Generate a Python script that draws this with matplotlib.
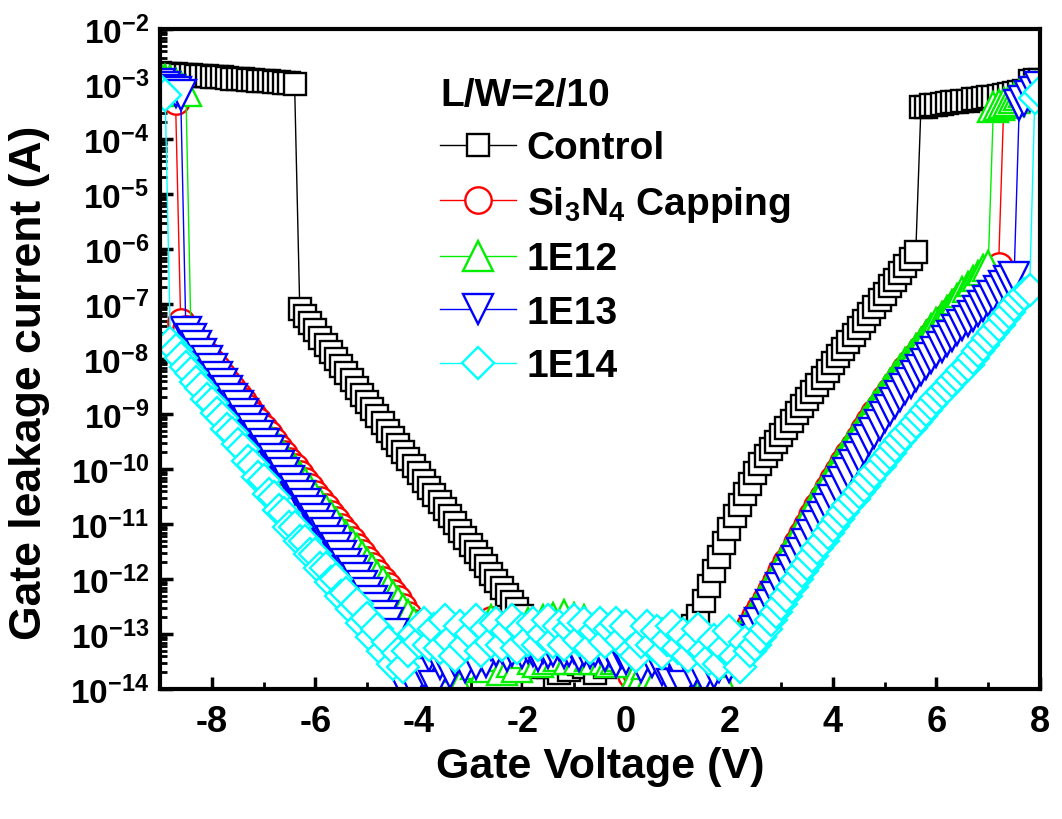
import numpy as np
import matplotlib
matplotlib.use('Agg')
import matplotlib.pyplot as plt
from matplotlib.ticker import FixedLocator, LogLocator, FuncFormatter, NullFormatter

plt.rcParams['font.family'] = ['Liberation Sans', 'DejaVu Sans']
plt.rcParams['font.weight'] = 'bold'
plt.rcParams['mathtext.fontset'] = 'custom'
plt.rcParams['mathtext.rm'] = 'Liberation Sans:bold'
plt.rcParams['mathtext.it'] = 'Liberation Sans:bold'
plt.rcParams['mathtext.bf'] = 'Liberation Sans:bold'
plt.rcParams['axes.unicode_minus'] = False

# ---------------- data ----------------
gate_voltage = [
    -9.0, -8.9, -8.8, -8.7, -8.6, -8.5, -8.4, -8.3, -8.2, -8.1,
    -8.0, -7.9, -7.8, -7.7, -7.6, -7.5, -7.4, -7.3, -7.2, -7.1,
    -7.0, -6.9, -6.8, -6.7, -6.6, -6.5, -6.4, -6.3, -6.2, -6.1,
    -6.0, -5.9, -5.8, -5.7, -5.6, -5.5, -5.4, -5.3, -5.2, -5.1,
    -5.0, -4.9, -4.8, -4.7, -4.6, -4.5, -4.4, -4.3, -4.2, -4.1,
    -4.0, -3.9, -3.8, -3.7, -3.6, -3.5, -3.4, -3.3, -3.2, -3.1,
    -3.0, -2.9, -2.8, -2.7, -2.6, -2.5, -2.4, -2.3, -2.2, -2.1,
    -2.0, -1.9, -1.8, -1.7, -1.6, -1.5, -1.4, -1.3, -1.2, -1.1,
    -1.0, -0.9, -0.8, -0.7, -0.6, -0.5, -0.4, -0.3, -0.2, -0.1,
    0.0, 0.1, 0.2, 0.3, 0.4, 0.5, 0.6, 0.7, 0.8, 0.9,
    1.0, 1.1, 1.2, 1.3, 1.4, 1.5, 1.6, 1.7, 1.8, 1.9,
    2.0, 2.1, 2.2, 2.3, 2.4, 2.5, 2.6, 2.7, 2.8, 2.9,
    3.0, 3.1, 3.2, 3.3, 3.4, 3.5, 3.6, 3.7, 3.8, 3.9,
    4.0, 4.1, 4.2, 4.3, 4.4, 4.5, 4.6, 4.7, 4.8, 4.9,
    5.0, 5.1, 5.2, 5.3, 5.4, 5.5, 5.6, 5.7, 5.8, 5.9,
    6.0, 6.1, 6.2, 6.3, 6.4, 6.5, 6.6, 6.7, 6.8, 6.9,
    7.0, 7.1, 7.2, 7.3, 7.4, 7.5, 7.6, 7.7, 7.8, 7.9,
    8.0,
]

# log10 of gate leakage current (A), one value per gate voltage
control_log = [
    -2.80, -2.81, -2.81, -2.82, -2.83, -2.83, -2.84, -2.85, -2.85, -2.86,
    -2.87, -2.88, -2.88, -2.89, -2.90, -2.91, -2.91, -2.92, -2.93, -2.94,
    -2.95, -2.95, -2.96, -2.97, -2.98, -2.99, -3.00,
    -7.09, -7.22, -7.35, -7.48, -7.61, -7.74, -7.87, -8.00, -8.13, -8.26,
    -8.39, -8.52, -8.65, -8.78, -8.91, -9.04, -9.17, -9.30, -9.43, -9.56,
    -9.69, -9.82, -9.95, -10.08, -10.21, -10.34, -10.47, -10.60, -10.73, -10.86,
    -10.99, -11.12, -11.25, -11.38, -11.51, -11.64, -11.77, -11.90, -12.03, -12.16,
    -12.29, -12.42, -12.55, -12.68,
    -13.50, -13.95, -13.60, -13.55,
    -13.60, -13.45, -13.70, -13.50, -13.65, -13.40, -13.55, -13.60, -13.45, -13.70,
    -13.50, -13.60, -13.40, -13.55, -13.50, -13.45, -13.60, -13.40, -13.55, -13.50,
    -13.65, -13.45, -13.55, -13.40, -13.35,
    -13.30, -13.10, -12.95, -12.85,
    -12.67, -12.40, -12.13, -11.86, -11.60, -11.34,
    -11.09, -10.86, -10.66, -10.46, -10.27, -10.08, -9.91, -9.77, -9.64, -9.51,
    -9.38, -9.25, -9.12, -8.99, -8.86, -8.73, -8.60, -8.47, -8.34, -8.21,
    -8.08, -7.95, -7.82, -7.69, -7.56, -7.43, -7.31, -7.18, -7.06, -6.93,
    -6.81, -6.68, -6.56, -6.43, -6.31, -6.18, -6.06,
    -3.42, -3.41, -3.39, -3.38, -3.36, -3.35, -3.33, -3.32, -3.31, -3.30,
    -3.28, -3.27, -3.26, -3.24, -3.23, -3.22, -3.20, -3.19, -3.17, -3.15,
    -3.13, -2.95, -2.93, -2.92,
]

si3n4_log = [
    -2.95, -3.05, -3.15, -3.30,
    -7.33, -7.45, -7.57, -7.69, -7.81, -7.93, -8.05, -8.17, -8.29, -8.41,
    -8.53, -8.65, -8.77, -8.89, -9.01, -9.13, -9.25, -9.37, -9.49, -9.61,
    -9.73, -9.85, -9.97, -10.09, -10.21, -10.33, -10.45, -10.57, -10.69, -10.81,
    -10.93, -11.05, -11.17, -11.29, -11.41, -11.53, -11.65, -11.77, -11.89, -12.01,
    -12.13, -12.25, -12.37, -12.50,
    -12.65, -12.80, -13.20, -13.40, -13.50, -13.30, -13.55, -13.40, -13.60, -13.30,
    -13.50, -13.35, -13.55, -13.30, -13.20, -13.00, -12.75, -13.20, -13.40, -13.30,
    -13.45, -13.30, -13.50, -13.35, -13.25, -13.40, -13.30, -13.45, -13.30, -13.40,
    -13.25, -13.45, -13.35, -13.30, -13.40, -13.25, -13.45, -13.30, -13.40, -13.35,
    -13.30, -13.10, -13.30, -13.75, -13.70, -13.10, -13.05, -13.70, -13.75, -13.20,
    -13.05, -13.30, -13.60, -13.85, -13.40, -13.30, -13.85, -13.90, -13.80, -13.60,
    -13.45, -13.35,
    -13.35, -13.25, -13.12, -12.98, -12.84, -12.68, -12.52, -12.36, -12.20, -12.03,
    -11.86, -11.69, -11.52, -11.35, -11.18, -11.01, -10.84, -10.67, -10.50, -10.34,
    -10.18, -10.03, -9.88, -9.73, -9.58, -9.43, -9.28, -9.13, -8.99, -8.85,
    -8.71, -8.58, -8.45, -8.32, -8.19, -8.06, -7.94, -7.82, -7.70, -7.58,
    -7.46, -7.35, -7.24, -7.13, -7.02, -6.91, -6.81, -6.71, -6.61, -6.51,
    -6.42, -6.36, -6.30,
    -3.38, -3.34, -3.30, -3.26, -3.22, -3.18, -3.14, -3.10,
]

e12_log = [
    -2.88, -2.92, -2.95, -3.00, -3.05, -3.12,
    -7.62, -7.74, -7.86, -7.98, -8.10, -8.22, -8.34, -8.46, -8.58, -8.70,
    -8.82, -8.94, -9.06, -9.18, -9.30, -9.42, -9.54, -9.66, -9.78, -9.90,
    -10.02, -10.14, -10.26, -10.38, -10.50, -10.62, -10.74, -10.86, -10.98, -11.10,
    -11.22, -11.34, -11.46, -11.58, -11.70, -11.82, -11.94, -12.06, -12.18, -12.30,
    -12.42, -12.54, -12.66, -12.80,
    -13.20, -13.60, -13.30, -13.85, -13.50, -13.70, -13.40, -13.60, -13.95, -13.45,
    -13.30, -13.55, -13.20, -13.60, -12.75, -13.40, -13.65, -12.85, -13.50, -13.60,
    -13.35, -12.80, -13.45, -13.50, -12.75, -13.45, -12.70, -13.40, -12.65, -13.45,
    -12.70, -13.45, -12.75, -13.40, -13.45, -12.80, -13.45, -13.50, -13.45, -13.40,
    -13.45, -13.50, -13.75, -13.80, -13.55, -13.75, -13.80, -13.00, -12.95, -13.30,
    -13.10, -13.50, -13.05, -13.30, -13.80, -13.90, -13.85, -13.90, -13.75, -13.50,
    -13.30, -13.20, -13.05, -12.90, -12.75, -12.58, -12.41, -12.24, -12.07, -11.90,
    -11.73, -11.56, -11.39, -11.22, -11.05, -10.88, -10.71, -10.54, -10.38, -10.22,
    -10.06, -9.91, -9.76, -9.61, -9.46, -9.31, -9.16, -9.01, -8.87, -8.73,
    -8.59, -8.46, -8.33, -8.20, -8.07, -7.94, -7.82, -7.70, -7.58, -7.46,
    -7.34, -7.23, -7.12, -7.01, -6.90, -6.79, -6.69, -6.59, -6.49, -6.39,
    -6.30,
    -3.42, -3.38, -3.35, -3.30, -3.26, -3.20, -3.15, -3.10, -3.05, -3.00,
]

e13_log = [
    -3.00, -3.05, -3.10, -3.15, -3.20,
    -7.50, -7.64, -7.77, -7.91, -8.04, -8.18, -8.32, -8.45, -8.59, -8.72,
    -8.86, -9.00, -9.13, -9.27, -9.40, -9.54, -9.68, -9.81, -9.95, -10.08,
    -10.22, -10.36, -10.49, -10.63, -10.76, -10.90, -11.04, -11.17, -11.31, -11.44,
    -11.58, -11.72, -11.85, -11.99, -12.12, -12.26, -12.40, -12.53, -12.67, -12.80,
    -13.00, -13.35, -13.90, -13.60, -13.95, -13.50, -13.70, -13.40, -13.95, -13.55,
    -13.30, -13.70, -13.50, -13.40, -13.60, -13.35, -13.55, -13.30, -13.50, -13.20,
    -13.30, -13.25, -13.40, -13.30, -13.20, -13.35, -13.25, -13.30, -13.40, -13.25,
    -13.35, -13.30, -13.20, -13.35, -13.30, -13.25, -13.40, -13.30, -13.35, -13.30,
    -13.25, -13.40, -13.30, -13.50, -13.35, -13.45, -13.30, -13.25, -13.60, -13.30,
    -13.50, -13.35, -13.65, -13.40, -13.90, -13.60, -13.95, -13.45, -13.70, -13.55,
    -13.80, -13.50, -13.70, -13.60, -13.40, -13.60, -13.45, -13.30,
    -13.25, -13.10, -12.95, -12.80, -12.64, -12.48, -12.32,
    -12.16, -12.00, -11.84, -11.68, -11.52, -11.36, -11.20, -11.04, -10.88, -10.72,
    -10.56, -10.40, -10.24, -10.08, -9.93, -9.78, -9.63, -9.48, -9.34, -9.20,
    -9.06, -8.93, -8.80, -8.67, -8.55, -8.43, -8.31, -8.20, -8.09, -7.98,
    -7.88, -7.78, -7.68, -7.58, -7.48, -7.39, -7.30, -7.21, -7.12, -7.03,
    -6.94, -6.85, -6.76, -6.67, -6.58, -6.50,
    -3.38, -3.30, -3.22, -3.14, -3.06,
]

e14_log = [
    -3.10, -3.20,
    -7.70, -7.84, -7.98, -8.15, -8.25, -8.42, -8.53, -8.72, -8.80, -8.98,
    -9.08, -9.28, -9.35, -9.55, -9.63, -9.85, -9.92, -10.15, -10.20, -10.45,
    -10.50, -10.75, -10.80, -11.05, -11.05, -11.30, -11.30, -11.55, -11.55, -11.80,
    -11.80, -12.05, -12.00, -12.30, -12.25, -12.55, -12.45, -12.80, -12.70, -13.05,
    -12.90, -13.30, -13.15, -13.55, -13.35,
    -13.60, -13.30, -13.00, -13.15, -12.80, -13.20, -12.90, -13.25, -12.75, -13.10,
    -13.40, -12.85, -13.20, -13.00, -12.75, -13.30, -12.90, -13.15, -12.80, -13.20,
    -12.95, -12.75, -13.25, -12.90, -13.10, -12.80, -13.20, -13.00, -12.75, -13.15,
    -12.85, -13.20, -12.90, -12.75, -13.10, -12.80, -13.25, -12.95, -12.80, -13.15,
    -12.90, -12.80, -13.10, -12.85, -13.30, -13.40, -13.15, -12.85, -13.20, -12.95,
    -13.35, -13.10, -12.85, -13.25, -13.00, -13.40, -13.15, -12.90, -13.30, -13.45,
    -13.10, -13.55, -13.25, -12.95, -13.40, -13.60, -13.15, -13.30,
    -13.20, -13.05, -12.90, -12.75, -12.60,
    -12.45, -12.30, -12.15, -12.00, -11.86, -11.72, -11.58, -11.44, -11.30, -11.17,
    -11.04, -10.91, -10.78, -10.66, -10.54, -10.42, -10.30, -10.18, -10.06, -9.94,
    -9.82, -9.70, -9.59, -9.48, -9.37, -9.26, -9.15, -9.04, -8.93, -8.82,
    -8.71, -8.60, -8.50, -8.40, -8.30, -8.20, -8.10, -7.98, -7.86, -7.74,
    -7.62, -7.50, -7.38, -7.26, -7.14, -7.02, -6.91, -6.82, -6.75,
    -3.25, -3.15,
]

series_labels = ['Control', 'Si$_3$N$_4$ Capping', '1E12', '1E13', '1E14']
legend_title = 'L/W=2/10'
x_ticks = [-8, -6, -4, -2, 0, 2, 4, 6, 8]
x_minor_ticks = [-9, -7, -5, -3, -1, 1, 3, 5, 7]

# ---------------- styles ----------------
styles = [
    dict(color='#000000', marker='s', ms=16.5),
    dict(color='#FF0000', marker='o', ms=19),
    dict(color='#00EE00', marker='^', ms=21),
    dict(color='#0000FF', marker='v', ms=21),
    dict(color='#00FFFF', marker='D', ms=16.5),
]

all_logs = [control_log, si3n4_log, e12_log, e13_log, e14_log]
for arr in all_logs:
    assert len(arr) == len(gate_voltage), len(arr)

fig = plt.figure(figsize=(10.62, 8.2), dpi=100)
ax = fig.add_axes([160 / 1062, 130 / 820, 880 / 1062, 660 / 820])

V = np.array(gate_voltage)
for lab, logs, st in zip(series_labels, all_logs, styles):
    ax.plot(V, 10.0 ** np.array(logs), color=st['color'], lw=1.0,
            marker=st['marker'], ms=st['ms'], mfc='white', mec=st['color'],
            mew=1.7, label=lab)

ax.set_yscale('log')
ax.set_xlim(-9, 8)
ax.set_ylim(1e-14, 1e-2)

ax.xaxis.set_major_locator(FixedLocator(x_ticks))
ax.xaxis.set_minor_locator(FixedLocator(x_minor_ticks))
ax.yaxis.set_major_locator(LogLocator(base=10, numticks=20))
ax.yaxis.set_minor_locator(LogLocator(base=10, subs=np.arange(2, 10), numticks=20))
ax.yaxis.set_minor_formatter(NullFormatter())
ax.yaxis.set_major_formatter(FuncFormatter(lambda v, p: r'$10^{%d}$' % int(round(np.log10(v)))))
ax.xaxis.set_major_formatter(FuncFormatter(lambda v, p: '%d' % int(round(v))))

ax.tick_params(which='both', direction='in', top=False, right=False)
ax.tick_params(which='major', length=9, width=2.5, pad=8)
ax.tick_params(axis='x', which='major', labelsize=26, pad=11)
ax.tick_params(axis='y', which='major', labelsize=24)
ax.tick_params(which='minor', length=5, width=2.0)
for sp in ax.spines.values():
    sp.set_linewidth(3)

ax.set_xlabel('Gate Voltage (V)', fontsize=31, fontweight='bold', labelpad=5)
ax.set_ylabel('Gate leakage current (A)', fontsize=32, fontweight='bold')
ax.yaxis.set_label_coords(-0.125, 0.465)

leg = ax.legend(loc='upper left', bbox_to_anchor=((440 - 160) / 880, (690 - 78) / 660),
                frameon=False, title=legend_title, title_fontsize=28, fontsize=28,
                handlelength=1.95, handletextpad=0.28, labelspacing=0.45,
                borderpad=0, borderaxespad=0, alignment='left')
leg.get_title().set_fontweight('bold')

fig.savefig('out.png', dpi=100)
